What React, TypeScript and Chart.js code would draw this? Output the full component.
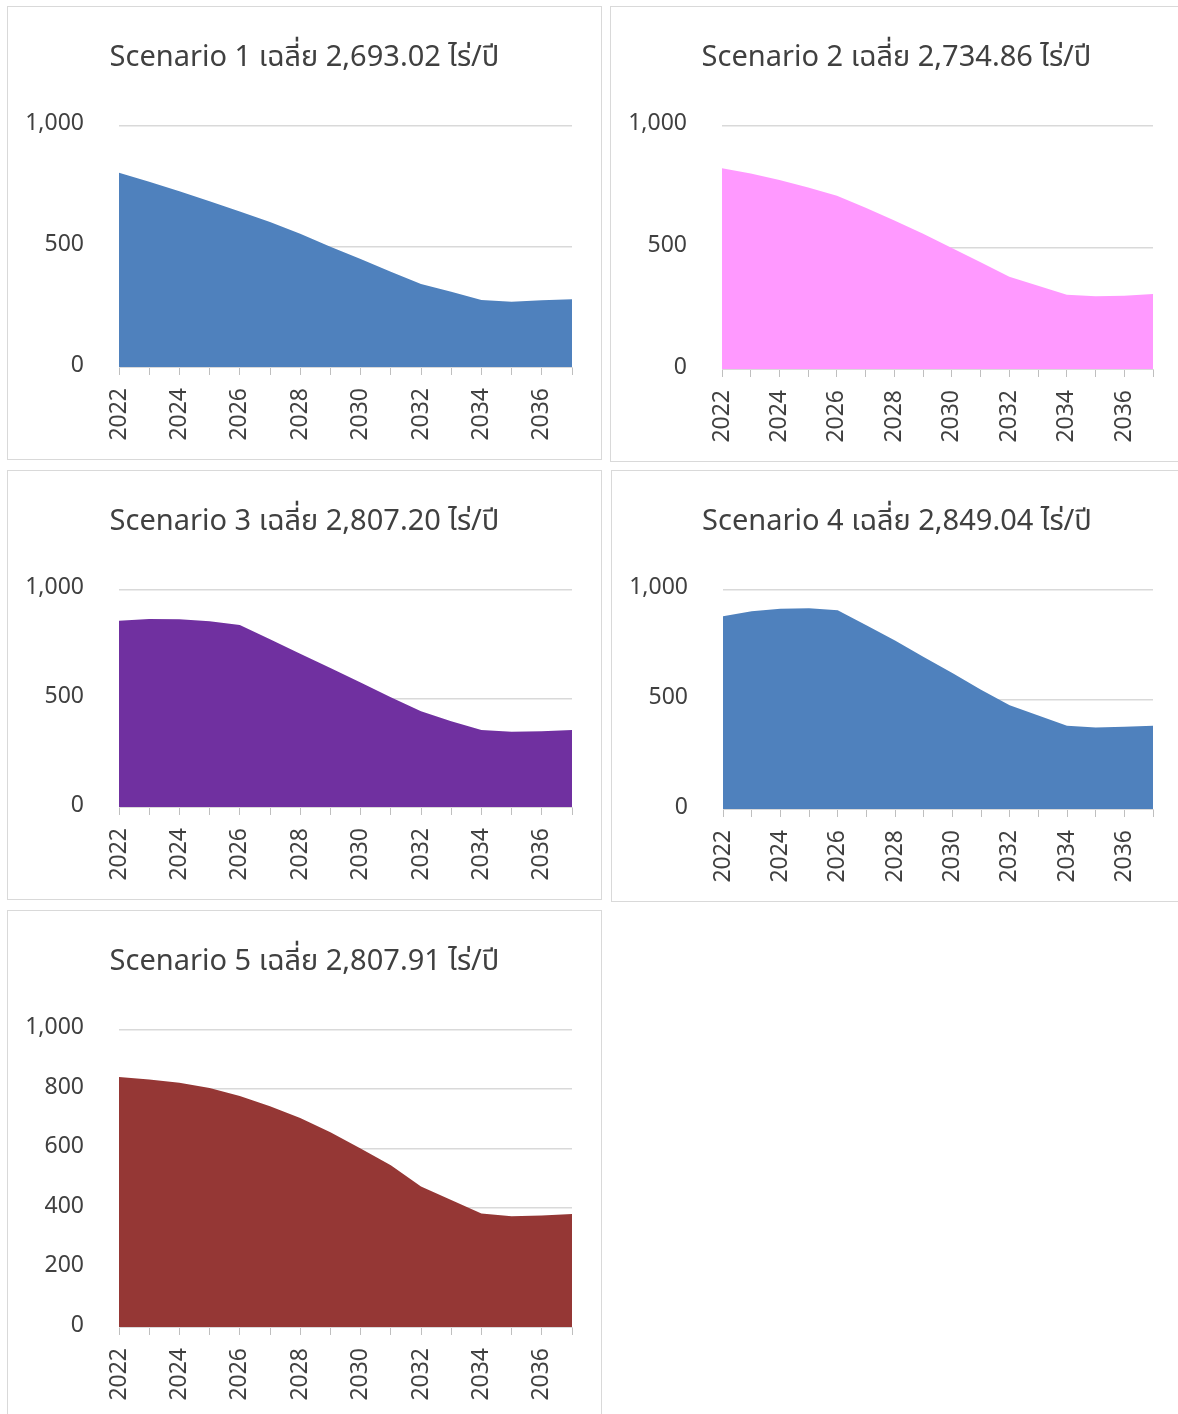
import React, { useEffect, useRef } from 'react';
import { Chart, registerables } from 'chart.js';

Chart.register(...registerables);

const years = ['2022', '2023', '2024', '2025', '2026', '2027', '2028', '2029', '2030', '2031', '2032', '2033', '2034', '2035', '2036', '2037'];

const scenario1 = [805, 768, 729, 687, 645, 601, 552, 499, 448, 395, 344, 312, 278, 271, 277, 281];
const scenario2 = [825, 804, 777, 746, 712, 663, 611, 556, 498, 439, 379, 342, 305, 299, 301, 308];
const scenario3 = [858, 866, 864, 855, 838, 772, 705, 640, 573, 505, 441, 395, 355, 347, 349, 355];
const scenario4 = [879, 902, 914, 916, 907, 838, 769, 694, 620, 544, 473, 426, 380, 372, 375, 380];
const scenario5 = [841, 833, 822, 804, 777, 743, 703, 655, 601, 544, 473, 427, 382, 373, 375, 380];

const titles = [
  'Scenario 1 เฉลี่ย 2,693.02 ไร่/ปี',
  'Scenario 2 เฉลี่ย 2,734.86 ไร่/ปี',
  'Scenario 3 เฉลี่ย 2,807.20 ไร่/ปี',
  'Scenario 4 เฉลี่ย 2,849.04 ไร่/ปี',
  'Scenario 5 เฉลี่ย 2,807.91 ไร่/ปี',
];

const yStepSizes = [500, 500, 500, 500, 200];
const colors = ['#4F81BD', '#FF99FF', '#7030A0', '#4F81BD', '#953735'];
const seriesList = [scenario1, scenario2, scenario3, scenario4, scenario5];

const panels = [
  { left: 7, top: 6, width: 595, height: 454 },
  { left: 610, top: 6, width: 573, height: 456 },
  { left: 7, top: 470, width: 595, height: 430 },
  { left: 611, top: 470, width: 572, height: 432 },
  { left: 7, top: 910, width: 595, height: 510 },
];

const FONT = "'Noto Sans', 'Noto Sans Thai', 'Open Sans', sans-serif";
const TEXT = '#404040';
const GRID = '#d9d9d9';

function AreaPanel({ idx }: { idx: number }) {
  const ref = useRef<HTMLCanvasElement | null>(null);
  const p = panels[idx];
  const cw = p.width - 2;
  const ch = p.height - 2;

  useEffect(() => {
    if (!ref.current) return;
    const chart = new Chart(ref.current, {
      type: 'line',
      data: {
        labels: years,
        datasets: [
          {
            data: seriesList[idx],
            backgroundColor: colors[idx],
            borderColor: colors[idx],
            borderWidth: 0,
            pointRadius: 0,
            fill: 'origin',
            tension: 0,
          },
        ],
      },
      options: {
        responsive: false,
        animation: false,
        devicePixelRatio: 1,
        layout: { padding: 0 },
        plugins: {
          legend: { display: false },
          tooltip: { enabled: false },
          title: {
            display: true,
            text: titles[idx],
            color: TEXT,
            font: { family: FONT, size: 29, weight: 'normal', lineHeight: 1.2 },
            padding: { top: 33, bottom: 51 },
          },
        },
        scales: {
          x: {
            type: 'category',
            offset: false,
            z: 1,
            grid: { drawOnChartArea: false, drawTicks: true, tickLength: 8, color: '#bfbfbf', lineWidth: 1 },
            border: { display: true, color: GRID, width: 1 },
            ticks: {
              autoSkip: false,
              maxRotation: 90,
              minRotation: 90,
              padding: 13,
              color: TEXT,
              font: { family: FONT, size: 23 },
              callback: (value: any, index: number) => (index % 2 === 0 ? years[index] : ''),
            },
            afterFit: (scale: any) => {
              scale.height = 92;
              scale.paddingLeft = 0;
              scale.paddingRight = 29;
            },
          },
          y: {
            min: 0,
            max: 1000,
            grid: { drawTicks: false, color: GRID, lineWidth: 1.5 },
            border: { display: false },
            ticks: {
              stepSize: yStepSizes[idx],
              padding: 35,
              labelOffset: -2,
              color: TEXT,
              font: { family: FONT, size: 23 },
              callback: (value: any) => Number(value).toLocaleString('en-US'),
            },
            afterFit: (scale: any) => {
              scale.width = 111;
              scale.paddingTop = 0;
              scale.paddingBottom = 0;
            },
          },
        },
      },
    });
    return () => chart.destroy();
  }, [idx]);

  return (
    <div
      style={{
        position: 'absolute',
        left: p.left,
        top: p.top,
        width: p.width - 2,
        height: p.height - 2,
        border: `1px solid ${GRID}`,
        background: '#ffffff',
      }}
    >
      <canvas ref={ref} width={cw} height={ch} style={{ display: 'block', width: cw, height: ch }} />
    </div>
  );
}

export default function App() {
  return (
    <div
      style={{
        position: 'absolute',
        left: 0,
        top: 0,
        width: 1178,
        height: 1414,
        overflow: 'hidden',
        background: '#ffffff',
      }}
    >
      {panels.map((_, i) => (
        <AreaPanel key={i} idx={i} />
      ))}
    </div>
  );
}
